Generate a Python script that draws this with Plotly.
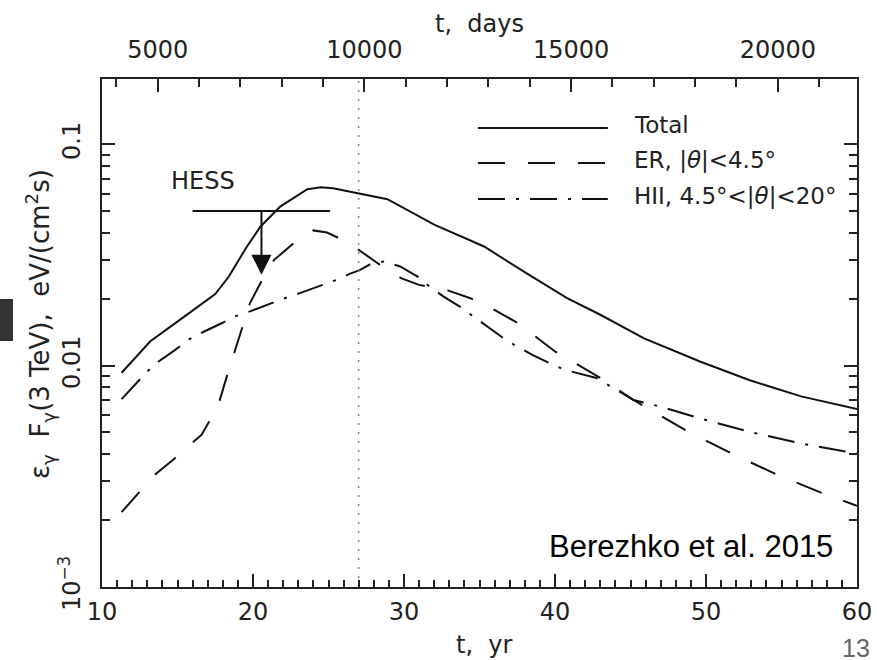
import plotly.graph_objects as go
import math

# ---------------- data ----------------
t_total = [11.3, 13.2, 15.2, 17.5, 18.4, 19.6, 20.5, 21.8, 23.6, 24.5, 25.3, 26.5,
           28.9, 32.0, 35.3, 38.1, 40.8, 43.0, 45.9, 49.6, 52.9, 56.3, 60.0]
v_total = [0.0093, 0.0129, 0.0162, 0.0211, 0.0253, 0.0346, 0.0426, 0.0524, 0.0628,
           0.0641, 0.0634, 0.0612, 0.0566, 0.0434, 0.0346, 0.0262, 0.0202, 0.0170,
           0.0133, 0.01045, 0.0086, 0.00727, 0.00637]

t_er = [11.3, 12.4, 13.5, 14.85, 16.1, 16.6, 17.1, 17.8, 18.3, 18.8, 19.3, 19.8, 20.6,
        21.4, 22.7, 24.0, 24.9, 25.7, 27.0, 28.4, 29.8, 31.0, 32.9, 34.4, 35.9, 37.4,
        38.7, 40.0, 41.7, 43.2, 45.2, 47.3, 48.8, 51.7, 54.7, 57.8, 60.0]
v_er = [0.00218, 0.00266, 0.00322, 0.00383, 0.00455, 0.00488, 0.0056, 0.0070, 0.0091,
        0.0116, 0.0150, 0.0192, 0.0244, 0.0301, 0.0358, 0.0409, 0.0400, 0.0377, 0.0334,
        0.0286, 0.0249, 0.0232, 0.0219, 0.0202, 0.0180, 0.0158, 0.01355, 0.0116,
        0.00993, 0.00865, 0.0070, 0.00581, 0.00505, 0.00401, 0.00322, 0.00264, 0.00233]

t_hii = [11.3, 12.3, 13.0, 13.75, 14.85, 15.7, 16.6, 17.95, 18.8, 19.8, 21.15, 22.1,
         23.1, 24.5, 25.5, 26.4, 27.1, 27.7, 28.65, 29.75, 30.9, 31.7, 32.6, 33.7, 34.6,
         35.5, 36.6, 37.5, 38.5, 39.6, 40.6, 42.75, 45.2, 47.1, 49.5, 52.8, 56.4, 60.0]
v_hii = [0.00707, 0.00836, 0.00942, 0.01045, 0.0118, 0.0131, 0.0141, 0.0156, 0.0167,
         0.0176, 0.0191, 0.0202, 0.0213, 0.0230, 0.0244, 0.0260, 0.0271, 0.0286, 0.0296,
         0.0281, 0.0253, 0.0228, 0.0206, 0.0185, 0.0167, 0.0150, 0.0133, 0.0122, 0.0112,
         0.0103, 0.0096, 0.0088, 0.0070, 0.0065, 0.00581, 0.00504, 0.00444, 0.00401]

# HESS upper limit
hess_t_range = [16.0, 25.1]
hess_limit = 0.050
hess_arrow_t = 20.56
hess_arrow_tip = 0.0258
hess_label_pos = (16.7, 0.0684)

t_marker = 27.0           # dotted vertical line (t, yr)
days_per_year = 365.25

x_range = [10, 60]
y_range_log = [-3.0, -0.704]

x_ticks = [10, 20, 30, 40, 50, 60]
y_ticks = [0.001, 0.01, 0.1]
y_ticktext = ["10<sup>\u22123</sup>", "0.01", "0.1"]
day_ticks = [5000, 10000, 15000, 20000]
day_ticktext = ["5000", "10000", "15000", "20000"]

legend_labels = ["Total",
                 "ER, |<i>\u03b8</i>|&lt;4.5\u00b0",
                 "HII, 4.5\u00b0&lt;|<i>\u03b8</i>|&lt;20\u00b0"]

# ---------------- styles ----------------
INK = "#222222"
FONT = "DejaVu Sans"
FS = 24
DASH_ER = "27px,23px"
DASH_HII = "27px,11px,3px,11px"
dashes = ["solid", DASH_ER, DASH_HII]

fig = go.Figure()

fig.add_trace(go.Scatter(x=t_total, y=v_total, mode="lines",
                         line=dict(color="#111", width=2), showlegend=False))
fig.add_trace(go.Scatter(x=t_er, y=v_er, mode="lines",
                         line=dict(color="#111", width=2, dash=DASH_ER), showlegend=False))
fig.add_trace(go.Scatter(x=t_hii, y=v_hii, mode="lines",
                         line=dict(color="#111", width=2, dash=DASH_HII), showlegend=False))

# dotted marker line
fig.add_trace(go.Scatter(x=[t_marker, t_marker], y=[10 ** y_range_log[0], 10 ** y_range_log[1]],
                         mode="lines", line=dict(color="#888", width=1.5, dash="2px,7px"),
                         showlegend=False))

# HESS limit
fig.add_trace(go.Scatter(x=hess_t_range, y=[hess_limit, hess_limit], mode="lines",
                         line=dict(color="#111", width=2), showlegend=False))
fig.add_trace(go.Scatter(x=[hess_arrow_t, hess_arrow_t], y=[hess_limit, hess_arrow_tip * 1.08],
                         mode="lines", line=dict(color="#111", width=2), showlegend=False))
fig.add_trace(go.Scatter(x=[hess_arrow_t], y=[hess_arrow_tip], mode="markers",
                         marker=dict(symbol="arrow-down", size=20, color="#111",
                                     line=dict(width=0)), showlegend=False))

# invisible trace for the top (days) axis
fig.add_trace(go.Scatter(x=[t * days_per_year for t in t_total], y=v_total, xaxis="x2",
                         mode="lines", line=dict(width=0), opacity=0, hoverinfo="skip",
                         showlegend=False))

axis_common = dict(showline=True, linecolor=INK, linewidth=2, ticks="inside",
                   tickcolor=INK, tickwidth=2, ticklen=13, showgrid=False, zeroline=False,
                   automargin=False,
                   tickfont=dict(family=FONT, size=FS, color=INK))

fig.update_layout(
    width=877, height=660,
    margin=dict(l=102, r=20, t=79, b=73),
    paper_bgcolor="white", plot_bgcolor="white",
    font=dict(family=FONT, size=FS, color=INK),
    xaxis=dict(range=x_range, tickvals=x_ticks, mirror=True, ticklabelstandoff=2,
               minor=dict(dtick=1, ticks="inside", ticklen=7, tickwidth=2, tickcolor=INK),
               **axis_common),
    xaxis2=dict(range=[x_range[0] * days_per_year, x_range[1] * days_per_year],
                overlaying="x", side="top", anchor="y", tickvals=day_ticks,
                ticktext=day_ticktext, ticklabelstandoff=9,
                minor=dict(tick0=0, dtick=1000, ticks="inside", ticklen=8, tickwidth=2,
                           tickcolor=INK),
                **axis_common),
    yaxis=dict(type="log", range=y_range_log, tickvals=y_ticks, ticktext=y_ticktext,
               tickangle=-90, mirror="ticks", ticklabelstandoff=10,
               minor=dict(dtick="D1", ticks="inside", ticklen=8, tickwidth=2, tickcolor=INK),
               **axis_common),
)

# axis titles as annotations
fig.add_annotation(text="t,  yr", xref="paper", yref="paper", x=0.506, y=-0.114,
                   xanchor="center", yanchor="middle",
                   showarrow=False, font=dict(family=FONT, size=FS, color=INK))
fig.add_annotation(text="t,  days", xref="paper", yref="paper", x=0.5, y=1.108,
                   xanchor="center", yanchor="middle",
                   showarrow=False, font=dict(family=FONT, size=FS, color=INK))
fig.add_annotation(text="\u03b5<sub>\u03b3</sub>  F<sub>\u03b3</sub>(3 TeV),  eV/(cm<sup>2</sup>s)",
                   xref="paper", yref="paper", x=-0.082, y=0.518, textangle=-90,
                   xanchor="center", yanchor="middle",
                   showarrow=False, font=dict(family=FONT, size=FS + 2, color=INK))

# HESS label
fig.add_annotation(text="HESS", xref="x", yref="y", x=hess_label_pos[0],
                   y=math.log10(hess_label_pos[1]), xanchor="center", yanchor="middle",
                   showarrow=False, font=dict(family=FONT, size=FS, color=INK))

# manual legend
leg_y = [0.9035, 0.8346, 0.7638]
for lab, dsh, yy in zip(legend_labels, dashes, leg_y):
    fig.add_shape(type="line", xref="paper", yref="paper", x0=0.498, x1=0.670, y0=yy, y1=yy,
                  line=dict(color="#111", width=2, dash=dsh))
    fig.add_annotation(text=lab, xref="paper", yref="paper", x=0.702, y=yy + 0.005,
                       xanchor="left", yanchor="middle", showarrow=False,
                       font=dict(family=FONT, size=FS - 1, color=INK))

# citation
fig.add_annotation(text="Berezhko et al. 2015", xref="paper", yref="paper", x=0.9709, y=0.0807,
                   xanchor="right", yanchor="middle", showarrow=False,
                   font=dict(family="Liberation Sans", size=31, color="black"))

# slide artefacts: page number and dark bar at left edge
fig.add_annotation(text="13", xref="paper", yref="paper", x=(840 - 102) / 755, y=(587 - 648) / 508,
                   xanchor="left", yanchor="middle", showarrow=False,
                   font=dict(family="Liberation Sans", size=25, color="#666"))
fig.add_shape(type="rect", xref="paper", yref="paper", x0=-102 / 755, x1=(13 - 102) / 755,
              y0=(587 - 341) / 508, y1=(587 - 299) / 508, fillcolor="#333", line=dict(width=0))

fig.write_html("out.html")
